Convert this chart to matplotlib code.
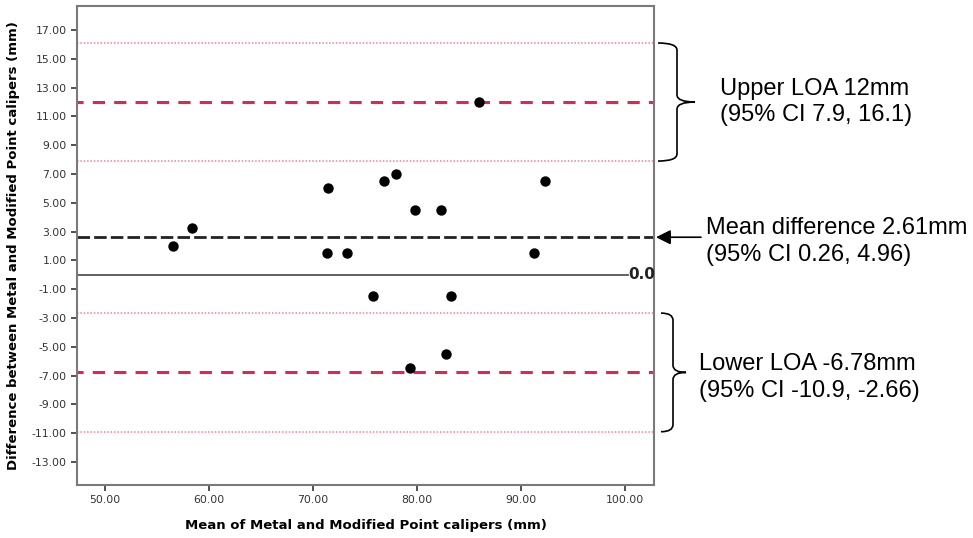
import matplotlib
matplotlib.use("Agg")
import matplotlib.pyplot as plt
from matplotlib.path import Path
from matplotlib.patches import PathPatch
import matplotlib.transforms as mtransforms

# Bland-Altman data: mean of the two methods vs difference
mean_vals = [56.5, 58.4, 71.4, 71.3, 73.3, 76.8, 78.0, 79.8, 82.3, 86.0,
             91.3, 92.3, 75.8, 83.3, 82.8, 79.3]
diff_vals = [2.0, 3.25, 6.0, 1.5, 1.5, 6.5, 7.0, 4.5, 4.5, 12.0,
             1.5, 6.5, -1.5, -1.5, -5.5, -6.5]

mean_diff = 2.61
mean_ci = [0.26, 4.96]
upper_loa = 12.0
lower_loa = -6.78
upper_ci = [7.9, 16.1]
lower_ci = [-10.9, -2.66]

x_ticks = [50, 60, 70, 80, 90, 100]
y_ticks = list(range(-13, 18, 2))

RED = "#e2264f"
PINK = "#f08098"

plt.rcParams['font.family'] = ['DejaVu Sans']

fig = plt.figure(figsize=(9.73, 5.38), dpi=100)
ax = fig.add_axes([77 / 973, 1 - 485 / 538, 577 / 973, 479 / 538])

ax.set_xlim(47.3, 102.8)
ax.set_ylim(-14.6, 18.67)

# reference lines
for v in upper_ci + lower_ci:
    ax.axhline(v, color=PINK, linestyle=(0, (1, 1.2)), linewidth=1.1, zorder=1)
for v in [upper_loa, lower_loa]:
    ax.axhline(v, color=RED, linestyle=(2, (4, 3)), linewidth=2.2, zorder=1)
ax.axhline(mean_diff, color="#222222", linestyle=(0, (4.5, 1.5)), linewidth=2.0, zorder=1)
ax.axhline(0, xmax=(628 - 77) / 577, color="#555555", linewidth=1.3, zorder=1)
ax.text(0.956, 0, "0.0", transform=mtransforms.blended_transform_factory(ax.transAxes, ax.transData),
        ha="left", va="center", fontsize=11, fontweight="bold", color="#222222")

ax.scatter(mean_vals, diff_vals, s=42, color="black", zorder=3)

ax.set_xticks(x_ticks)
ax.set_xticklabels([f"{v:.2f}" for v in x_ticks])
ax.set_yticks(y_ticks)
ax.set_yticklabels([f"{v:.2f}" for v in y_ticks])
ax.tick_params(axis="both", labelsize=7.8, colors="#333333", length=4, width=1.2)
for s in ax.spines.values():
    s.set_color("#7a7a7a")
    s.set_linewidth(1.5)

ax.set_xlabel("Mean of Metal and Modified Point calipers (mm)", fontsize=9.5,
              fontweight="bold", labelpad=10)
ax.set_ylabel("Difference between Metal and Modified Point calipers (mm)", fontsize=9.5,
              fontweight="bold", labelpad=8)

trans = mtransforms.blended_transform_factory(ax.transAxes, ax.transData)


def ax_frac(px):
    return (px - 77) / 577


def brace(y_bot, y_top, x0, x1, x2, r=0.5):
    ymid = (y_bot + y_top) / 2
    verts = [
        (ax_frac(x0), y_top), (ax_frac(x1), y_top), (ax_frac(x1), y_top - r),
        (ax_frac(x1), ymid + r), (ax_frac(x1), ymid), (ax_frac(x2), ymid),
        (ax_frac(x1), ymid), (ax_frac(x1), ymid - r),
        (ax_frac(x1), y_bot + r), (ax_frac(x1), y_bot), (ax_frac(x0), y_bot),
    ]
    codes = [Path.MOVETO, Path.CURVE3, Path.CURVE3,
             Path.LINETO, Path.CURVE3, Path.CURVE3,
             Path.CURVE3, Path.CURVE3,
             Path.LINETO, Path.CURVE3, Path.CURVE3]
    patch = PathPatch(Path(verts, codes), facecolor="none", edgecolor="black",
                      linewidth=1.2, transform=trans, clip_on=False)
    ax.add_patch(patch)


brace(upper_ci[0], upper_ci[1], 658, 677, 695)
brace(lower_ci[0], lower_ci[1], 661, 673, 686)

text_font = ['Liberation Sans', 'DejaVu Sans']
ax.text(ax_frac(720), (upper_ci[0] + upper_ci[1]) / 2,
        f"Upper LOA {upper_loa:.0f}mm\n(95% CI {upper_ci[0]}, {upper_ci[1]})",
        transform=trans, ha="left", va="center", fontsize=17, family=text_font,
        linespacing=1.27)
ax.text(ax_frac(699), lower_loa - 0.35,
        f"Lower LOA {lower_loa}mm\n(95% CI {lower_ci[0]}, {lower_ci[1]})",
        transform=trans, ha="left", va="center", fontsize=17, family=text_font,
        linespacing=1.27)
ax.text(ax_frac(706), mean_diff - 0.3,
        f"Mean difference {mean_diff}mm\n(95% CI {mean_ci[0]}, {mean_ci[1]})",
        transform=trans, ha="left", va="center", fontsize=17, family=text_font,
        linespacing=1.27)
ax.annotate("", xy=(ax_frac(656), mean_diff), xycoords=trans,
            xytext=(ax_frac(701), mean_diff), textcoords=trans,
            arrowprops=dict(arrowstyle="-|>", color="black", lw=1.2,
                            mutation_scale=22, shrinkA=0, shrinkB=0))

fig.savefig("out.png", dpi=100)
